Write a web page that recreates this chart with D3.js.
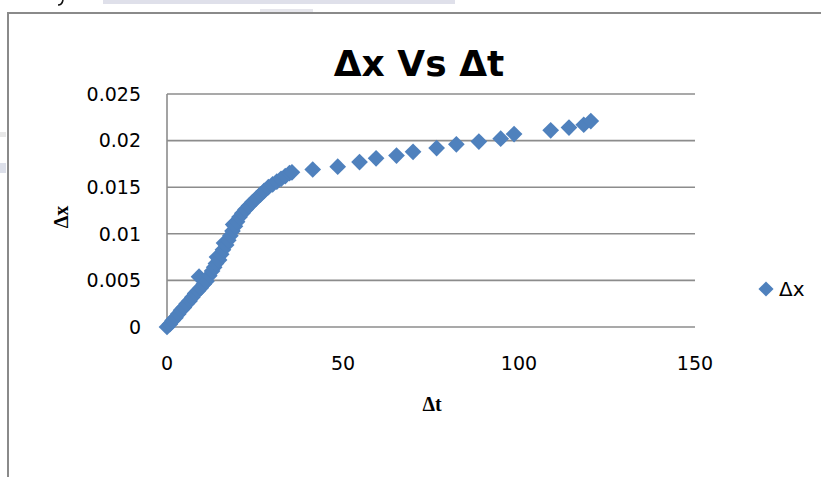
<!DOCTYPE html>
<html>
  <head>
    <meta http-equiv="Content-Type" content="text/html;charset=utf-8">
    <title>dx vs dt</title>
    <script type="text/javascript" src="https://d3js.org/d3.v7.min.js"></script>
    <style>
      body { margin: 0; background: #fff; }
      .grid line { stroke: #8c8c8c; stroke-width: 1.6px; }
      .tick-label { font-family: 'DejaVu Sans', sans-serif; font-size: 19px; fill: #000; }
      .title { font-family: 'DejaVu Sans', sans-serif; font-weight: bold; font-size: 36px; }
      .axis-title { font-family: 'Liberation Serif', serif; font-weight: bold; font-size: 20px; }
      .legend text { font-family: 'DejaVu Sans', sans-serif; font-size: 20px; }
    </style>
  </head>
  <body>
    <div id="chart"></div>
    <script>
// values
var dt = [0, 0.8, 1.6, 2.4, 3.2, 4, 4.8, 5.6, 6.4, 7.2, 8, 8.8, 9.1, 9.6, 10.4, 11.2,
          12, 12.8, 13.4, 13.9, 14.2, 14.8, 15.4, 15.9, 16.2, 16.8, 17.4, 18, 18.6, 18.8, 19.3, 19.9,
          20.6, 21.4, 22.3, 23.3, 24.3, 25.4, 26.5, 27.6, 28.8, 30, 31.2, 32.4, 33.6, 34.8, 35.5,
          41.4, 48.5, 54.7, 59.4, 65.2, 69.9, 76.6, 82.2, 88.6, 94.8, 98.6, 109, 114.2, 118.4, 120.4];
var dx = [0, 0.0003, 0.0007, 0.001, 0.0014, 0.0018, 0.0021, 0.0025, 0.0028, 0.0032, 0.0036, 0.0039, 0.0054, 0.0042, 0.0046, 0.0049,
          0.0055, 0.006, 0.0064, 0.0068, 0.0075, 0.0072, 0.0078, 0.0083, 0.009, 0.0088, 0.0093, 0.0098, 0.0103, 0.011, 0.0108, 0.0113,
          0.0118, 0.0122, 0.0126, 0.013, 0.0134, 0.0138, 0.0142, 0.0146, 0.015, 0.0153, 0.0156, 0.0159, 0.0162, 0.0165, 0.0166,
          0.0169, 0.0172, 0.0177, 0.0181, 0.0184, 0.0188, 0.0192, 0.0196, 0.0199, 0.0202, 0.0207, 0.0211, 0.0214, 0.0217, 0.0221];
var xTicks = [0, 50, 100, 150];
var yTicks = [0, 0.005, 0.01, 0.015, 0.02, 0.025];
var yTickLabels = ["0", "0.005", "0.01", "0.015", "0.02", "0.025"];

var width = 821,
    height = 477,
    blue = "#4F81BD";

var data = dt.map(function(t, i) { return {t: t, x: dx[i]}; });

var x = d3.scaleLinear().domain([0, 150]).range([167, 695]);
var y = d3.scaleLinear().domain([0, 0.025]).range([327, 94]);

var svg = d3.select("#chart").append("svg")
    .attr("width", width)
    .attr("height", height);

svg.append("rect").attr("width", width).attr("height", height).attr("fill", "#fff");

// bits of the surrounding document page
svg.append("rect").attr("x", 103).attr("y", 0).attr("width", 352).attr("height", 4).attr("fill", "#dfe0ea");
svg.append("rect").attr("x", 260).attr("y", 9).attr("width", 53).attr("height", 3).attr("fill", "#e6e6ec");
svg.append("rect").attr("x", 0).attr("y", 132).attr("width", 6).attr("height", 5).attr("fill", "#e8e8e8");
svg.append("rect").attr("x", 0).attr("y", 163).attr("width", 6).attr("height", 10).attr("fill", "#dde0ea");
// tail of a letter from the line above
svg.append("path")
    .attr("d", "M63,0 Q62,5 58,5")
    .attr("fill", "none")
    .attr("stroke", "#111")
    .attr("stroke-width", 1.6);

// chart frame
svg.append("path")
    .attr("d", "M8," + height + "V13H" + width)
    .attr("fill", "none")
    .attr("stroke", "#8a8a8a")
    .attr("stroke-width", 2);

// gridlines + left axis line
var grid = svg.append("g").attr("class", "grid");
grid.selectAll("line.h")
    .data(yTicks)
  .enter().append("line")
    .attr("class", "h")
    .attr("x1", x(0)).attr("x2", x(150))
    .attr("y1", function(d) { return y(d); })
    .attr("y2", function(d) { return y(d); });
grid.append("line")
    .attr("x1", x(0)).attr("x2", x(0))
    .attr("y1", y(0)).attr("y2", y(0.025));

// tick labels
svg.selectAll("text.ylab")
    .data(yTicks)
  .enter().append("text")
    .attr("class", "tick-label ylab")
    .attr("x", 141)
    .attr("y", function(d) { return y(d); })
    .attr("dy", "0.36em")
    .attr("text-anchor", "end")
    .text(function(d, i) { return yTickLabels[i]; });

svg.selectAll("text.xlab")
    .data(xTicks)
  .enter().append("text")
    .attr("class", "tick-label xlab")
    .attr("x", function(d) { return x(d); })
    .attr("y", 370)
    .attr("text-anchor", "middle")
    .text(function(d) { return d; });

// titles
svg.append("text")
    .attr("class", "title")
    .attr("x", 419).attr("y", 76)
    .attr("text-anchor", "middle")
    .text("Δx Vs Δt");

svg.append("text")
    .attr("class", "axis-title")
    .attr("x", 432).attr("y", 411)
    .attr("text-anchor", "middle")
    .text("Δt");

svg.append("text")
    .attr("class", "axis-title")
    .attr("transform", "translate(68,217) rotate(-90)")
    .attr("text-anchor", "middle")
    .text("Δx");

// markers
var diamond = d3.symbol().type(d3.symbolSquare).size(140);

svg.selectAll("path.pt")
    .data(data)
  .enter().append("path")
    .attr("class", "pt")
    .attr("d", diamond)
    .attr("fill", blue)
    .attr("transform", function(d) { return "translate(" + x(d.t) + "," + y(d.x) + ") rotate(45)"; });

// legend
var legend = svg.append("g").attr("class", "legend").attr("transform", "translate(766,289)");
legend.append("path")
    .attr("d", d3.symbol().type(d3.symbolSquare).size(115))
    .attr("fill", blue)
    .attr("transform", "rotate(45)");
legend.append("text")
    .attr("x", 13).attr("dy", "0.36em")
    .text("Δx");
    </script>
  </body>
</html>
